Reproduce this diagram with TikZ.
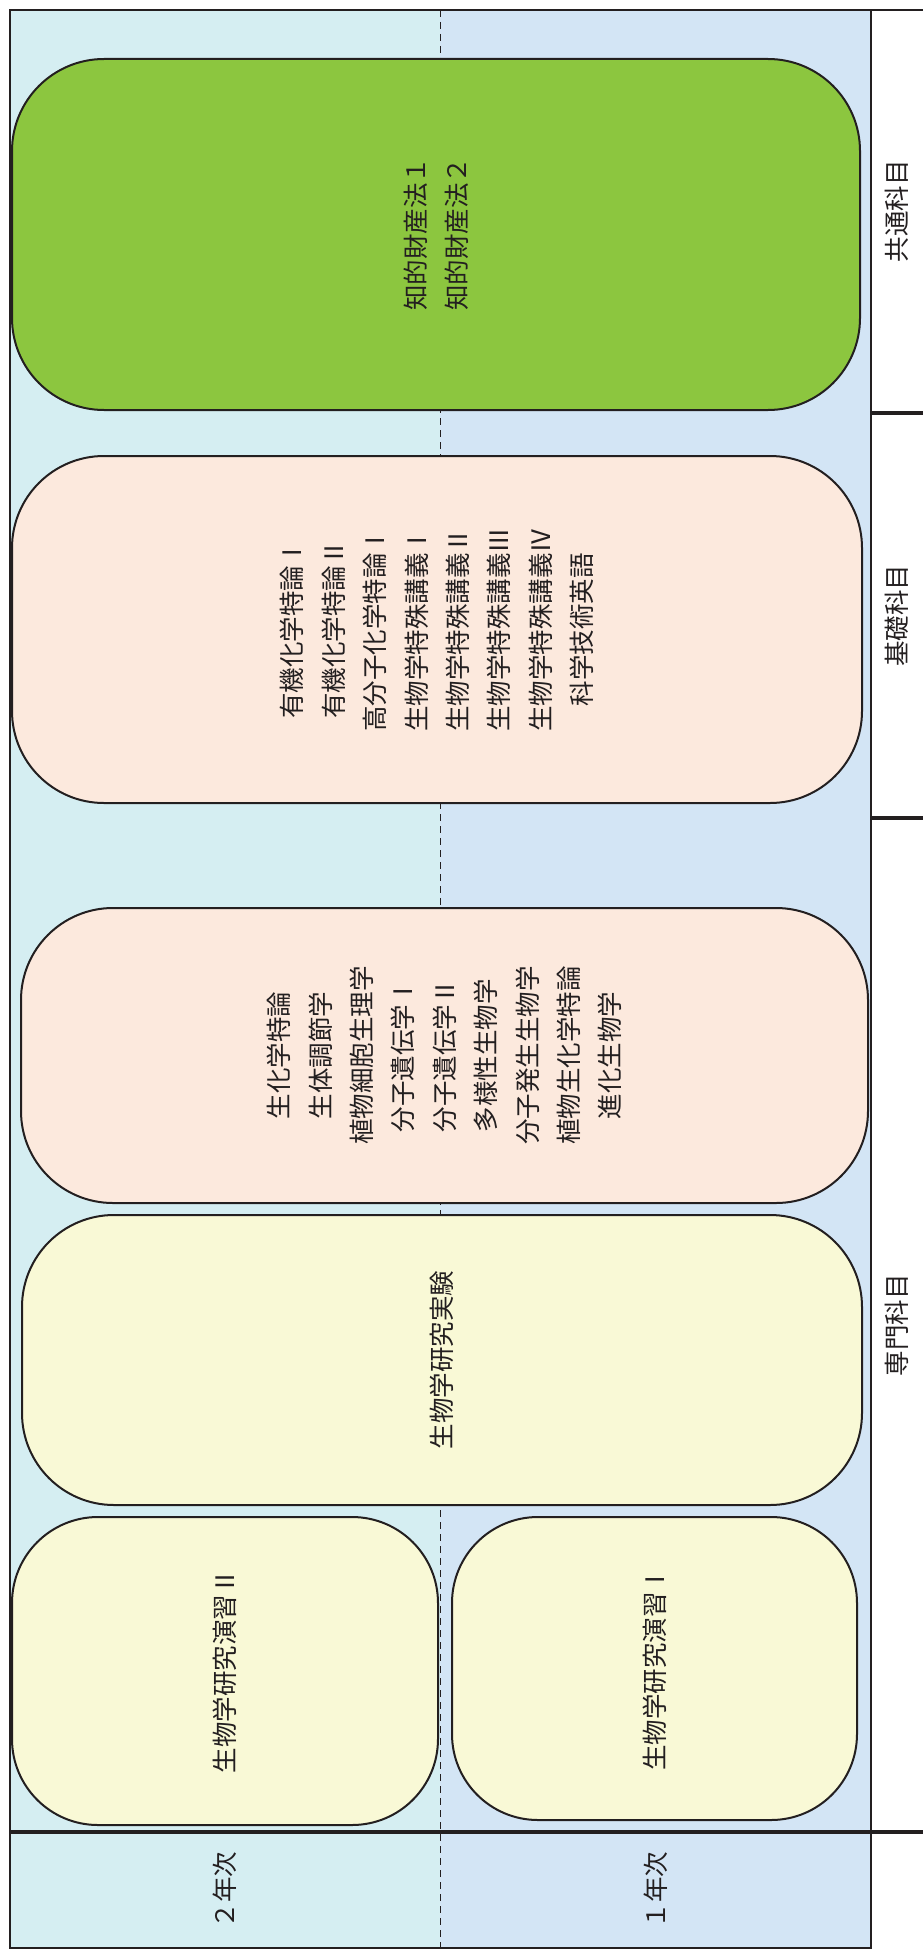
\documentclass[tikz,border=0pt]{standalone}
\usepackage{fontspec}
\setmainfont{Noto Sans CJK JP}
\definecolor{ink}{HTML}{231F20}
\definecolor{bgcyan}{HTML}{D5EEF2}
\definecolor{bgblue}{HTML}{D3E5F5}
\definecolor{grn}{HTML}{8CC63F}
\definecolor{pnk}{HTML}{FCE9DD}
\definecolor{ylw}{HTML}{F9F9D6}
\begin{document}
\begin{tikzpicture}[x=1pt,y=-1pt,
  course/.style={draw=ink, line width=2pt, rounded corners=92pt, rotate=90,
    align=center, inner sep=0pt, text=ink,
    font=\fontsize{25.5pt}{41.4pt}\selectfont},
  smallcourse/.style={course, rounded corners=86pt},
  lbl/.style={rotate=90, text=ink, inner sep=0pt,
    font=\fontsize{25.5pt}{30pt}\selectfont},
  frameline/.style={draw=ink, line width=2.8pt},
  sepline/.style={draw=ink, line width=3.3pt}
]
\useasboundingbox (0,0) rectangle (923,1950);
% backgrounds
\fill[bgcyan] (10,10) rectangle (440,1948);
\fill[bgblue] (440,10) rectangle (871,1948);
\coordinate (dtop) at (440,10);
\coordinate (dbot) at (440,1948);
\draw[ink, line width=0.8pt, dash pattern=on 7pt off 5pt] (dtop) -- (dbot);
% frame
\draw[frameline] (10,10) rectangle (871,1948);
\coordinate (ta) at (871,10);
\coordinate (tb) at (923,10);
\draw[frameline] (ta) -- (tb);
\coordinate (h1a) at (871,413);
\coordinate (h1b) at (923,413);
\coordinate (h2a) at (871,818);
\coordinate (h2b) at (923,818);
\coordinate (h3a) at (10,1832);
\coordinate (h3b) at (923,1832);
\draw[sepline] (h1a) -- (h1b);
\draw[sepline] (h2a) -- (h2b);
\draw[sepline] (h3a) -- (h3b);
% course boxes
\node[course, fill=grn, minimum width=351pt, minimum height=848pt] (chizai) at (436,234.5)
  {知的財産法１\\知的財産法２};
\node[course, fill=pnk, minimum width=347pt, minimum height=850pt] (kiso) at (437,629.5)
  {有機化学特論Ⅰ\\有機化学特論Ⅱ\\高分子化学特論Ⅰ\\生物学特殊講義Ⅰ\\生物学特殊講義Ⅱ\\生物学特殊講義Ⅲ\\生物学特殊講義Ⅳ\\科学技術英語};
\node[course, fill=pnk, minimum width=295pt, minimum height=847pt] (senmon) at (444.5,1055.5)
  {生化学特論\\生体調節学\\植物細胞生理学\\分子遺伝学Ⅰ\\分子遺伝学Ⅱ\\多様性生物学\\分子発生生物学\\植物生化学特論\\進化生物学};
\node[course, fill=ylw, minimum width=290pt, minimum height=840pt] (jikken) at (442,1360)
  {生物学研究実験};
\node[smallcourse, fill=ylw, minimum width=308pt, minimum height=426pt] (enshu2) at (225,1671)
  {生物学研究演習Ⅱ};
\node[smallcourse, fill=ylw, minimum width=303pt, minimum height=405pt] (enshu1) at (654.5,1668.5)
  {生物学研究演習Ⅰ};
% labels
\node[lbl] (kyotsu) at (897,211.5) {共通科目};
\node[lbl] (kisolbl) at (897,615.5) {基礎科目};
\node[lbl] (senmonlbl) at (897,1325) {専門科目};
\node[lbl] (nen2) at (225,1890) {２年次};
\node[lbl] (nen1) at (655.5,1890) {１年次};
\end{tikzpicture}
\end{document}
